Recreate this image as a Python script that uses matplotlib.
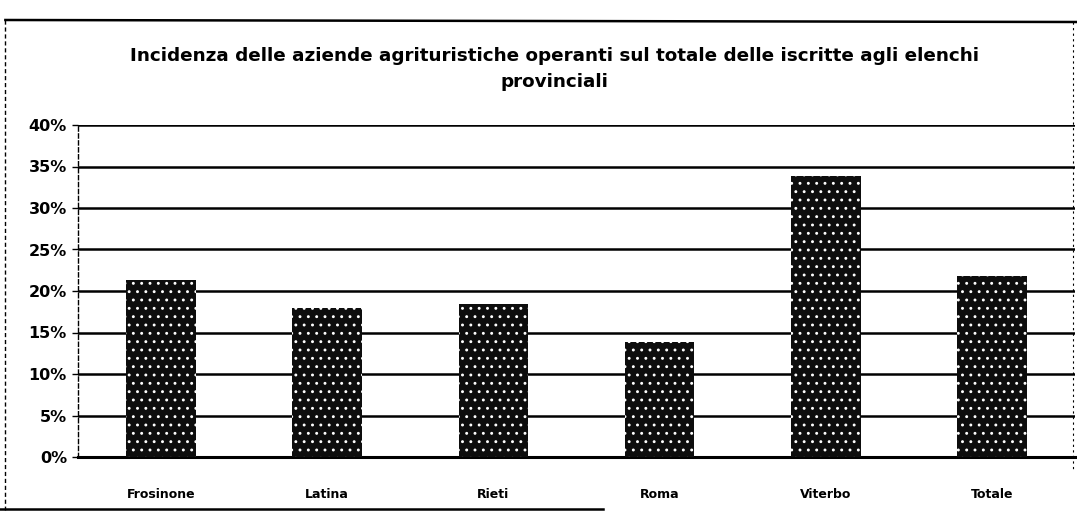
import matplotlib
matplotlib.use('Agg')
import matplotlib.pyplot as plt
from matplotlib.lines import Line2D
from matplotlib.ticker import FuncFormatter, MultipleLocator

province = ['Frosinone', 'Latina', 'Rieti', 'Roma', 'Viterbo', 'Totale']
incidenza = [21.3, 17.9, 18.4, 13.8, 33.8, 21.8]  # % aziende operanti

titolo = ('Incidenza delle aziende agrituristiche operanti sul totale delle iscritte agli elenchi\n'
          'provinciali')

plt.rcParams['font.family'] = ['DejaVu Sans']
plt.rcParams['hatch.linewidth'] = 0.9

fig = plt.figure(figsize=(10.77, 5.15), dpi=100)
ax = fig.add_axes([78 / 1077, 1 - 457 / 515, 997 / 1077, 332 / 515])

# barre scure con puntinatura bianca
ax.bar(range(len(province)), incidenza, width=0.42, color='#0d0d0d',
       edgecolor='white', hatch='..', linewidth=0, zorder=3)

ax.set_ylim(0, 40)
ax.set_xlim(-0.5, len(province) - 0.5)
ax.yaxis.set_major_locator(MultipleLocator(5))
ax.yaxis.set_major_formatter(FuncFormatter(lambda v, p: f'{v:.0f}%'))
ax.grid(axis='y', color='black', linewidth=1.8, zorder=0)
ax.set_xticks(range(len(province)))
ax.set_xticklabels(province, family=['Liberation Sans Narrow', 'DejaVu Sans'],
                   fontweight='bold', fontsize=9)
ax.tick_params(axis='x', length=0, pad=22)
ax.tick_params(axis='y', length=4, width=1, pad=4, labelsize=11.5)
for lab in ax.get_yticklabels():
    lab.set_fontweight('bold')

for s in ['top', 'right']:
    ax.spines[s].set_visible(False)
ax.spines['left'].set_linestyle((0, (3, 2)))
ax.spines['left'].set_linewidth(1.0)
ax.spines['bottom'].set_linewidth(2.2)

fig.text(0.515, 1 - 69 / 515, titolo, ha='center', va='center',
         fontsize=13.2, fontweight='bold', linespacing=1.55)

# cornice del grafico
fig.add_artist(Line2D([0.005, 1.0], [1 - 20 / 515, 1 - 22 / 515], color='black', lw=1.8))
fig.add_artist(Line2D([0.005, 0.005], [1 - 20 / 515, 1 - 510 / 515], color='black',
                      lw=1, linestyle=(0, (3, 2))))
fig.add_artist(Line2D([0.0, 0.56], [1 - 509 / 515, 1 - 509 / 515], color='black', lw=1.8))
fig.add_artist(Line2D([0.996, 0.996], [1 - 22 / 515, 1 - 470 / 515], color='black',
                      lw=0.8, linestyle=(0, (2, 3))))

fig.savefig('out.png', dpi=100, facecolor='white')
